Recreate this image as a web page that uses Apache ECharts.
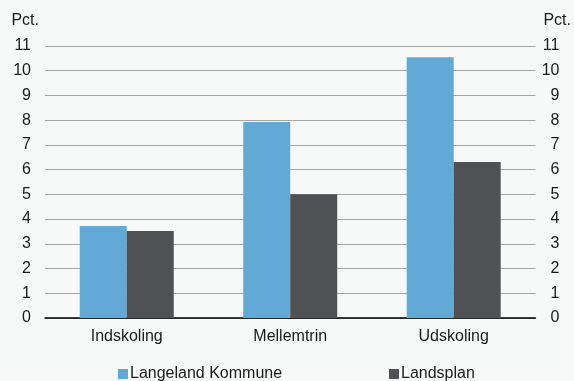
<!DOCTYPE html>
<html><head><meta charset="utf-8">
<script src="https://cdn.jsdelivr.net/npm/echarts@6/dist/echarts.min.js"></script>
<style>html,body{margin:0;padding:0;background:#f7f9f9}#c{width:574px;height:381px}</style>
</head><body><div id="c"></div>
<script>
const categories = ['Indskoling', 'Mellemtrin', 'Udskoling'];
const langeland = [3.72, 7.93, 10.55];
const landsplan = [3.52, 5.0, 6.31];
const yTicks = [0, 1, 11];
const seriesNames = ['Langeland Kommune', 'Landsplan'];

const chart = echarts.init(document.getElementById('c'), null, {renderer: 'canvas'});
const font = {fontFamily: 'Liberation Sans, Arial, sans-serif', fontSize: 16, color: '#1a1a1a'};
const yCommon = {
  type: 'value', min: yTicks[0], interval: yTicks[1], max: yTicks[2],
  name: 'Pct.', nameGap: 17,
  axisLine: {show: false}, axisTick: {show: false},
  splitLine: {show: true, lineStyle: {color: '#a6a6a6', width: 1}},
  axisLabel: Object.assign({}, font, {margin: 14})
};
chart.setOption({
  backgroundColor: '#f7f9f9',
  textStyle: font,
  grid: {left: 45, right: 35, top: 46, bottom: 63},
  legend: [
    {data: [seriesNames[0]], left: 113, top: 361, itemWidth: 10, itemHeight: 10, itemGap: 4,
     icon: 'rect', textStyle: Object.assign({}, font, {padding: [0,0,0,-3]})},
    {data: [seriesNames[1]], left: 384, top: 361, itemWidth: 10, itemHeight: 10,
     icon: 'rect', textStyle: Object.assign({}, font, {padding: [0,0,0,-3]})}
  ],
  xAxis: {
    type: 'category', data: categories,
    axisLine: {lineStyle: {color: '#000', width: 1.5}},
    axisTick: {show: false},
    axisLabel: Object.assign({}, font, {margin: 11})
  },
  yAxis: [
    Object.assign({}, yCommon, {position: 'left',
      nameTextStyle: Object.assign({}, font, {align: 'right', padding: [0, 6, 0, 0]})}),
    Object.assign({}, yCommon, {position: 'right', splitLine: {show: false},
      nameTextStyle: Object.assign({}, font, {align: 'left', padding: [0, 0, 0, 8]}),
      axisLabel: Object.assign({}, font, {margin: 24, align: 'right'})})
  ],
  series: [
    {name: seriesNames[0], type: 'bar', data: langeland, barWidth: 47, barGap: '0%',
     itemStyle: {color: '#63a9d6'}},
    {name: seriesNames[1], type: 'bar', data: landsplan, barWidth: 47, barGap: '0%',
     itemStyle: {color: '#505155'}}
  ],
  animation: false
});
</script></body></html>
